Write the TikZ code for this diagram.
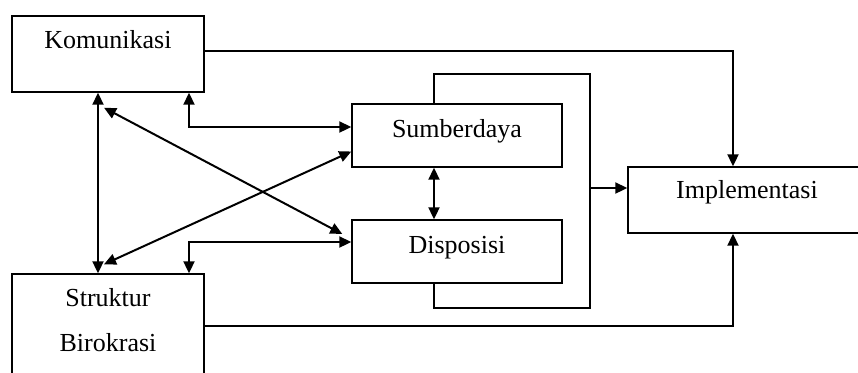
\documentclass[tikz,border=0pt]{standalone}
\usepackage{fontspec}
\setmainfont{Liberation Serif}
\usetikzlibrary{arrows.meta, positioning, calc}

\begin{document}
\begin{tikzpicture}[x=0.5pt, y=-0.5pt,
  box/.style={draw, line width=0.7pt, inner sep=0pt, font=\fontsize{13}{15}\selectfont, text height=9pt},
  arr/.style={-{Triangle[length=6pt,width=5.5pt]}, line width=1pt},
  dbl/.style={{Triangle[length=6pt,width=5.5pt]}-{Triangle[length=6pt,width=5.5pt]}, line width=1pt}]
\clip (0,0) rectangle (858,372);
\node[box, minimum width=96pt, minimum height=38pt, text depth=15pt] (kom) at (108,54) {Komunikasi};
\node[box, minimum width=105pt, minimum height=31.5pt, text depth=7.5pt] (sum) at (457,135.5) {Sumberdaya};
\node[box, minimum width=105pt, minimum height=31.5pt, text depth=7.5pt] (dis) at (457,251.5) {Disposisi};
\node[box, minimum width=119pt, minimum height=33pt, text depth=11pt] (imp) at (747,200) {Implementasi};
\node[box, minimum width=96pt, minimum height=58pt, align=center, font=\fontsize{13}{22.5}\selectfont, text height=31.5pt, text depth=12.5pt] (str) at (108,332) {Struktur\\Birokrasi};
\coordinate (btop) at (434,74);
\coordinate (bbot) at (434,308);
\coordinate (bout) at (590,188);
\draw[line width=0.8pt] (btop |- sum.north) -- (btop) -| (bout) |- (bbot) -- (bbot |- dis.south);
\draw[arr] (bout) -- (bout -| imp.west);
\draw[dbl] (btop |- sum.south) -- (btop |- dis.north);
\draw[arr] ([yshift=1.5pt]kom.east) -| ([xshift=-7pt]imp.north);
\draw[arr] ([yshift=3pt]str.east) -| ([xshift=-7pt]imp.south);
\draw[dbl] ([xshift=-5pt]kom.south) -- ([xshift=-5pt]str.north);
\draw[dbl] ([xshift=40.5pt]kom.south) |- ([yshift=4.25pt]sum.west);
\draw[dbl] ([xshift=40.5pt]str.north) |- ([yshift=4.75pt]dis.west);
\draw[dbl] ([shift={(-2pt,-7.5pt)}]kom.south) -- ([shift={(-4.5pt,8.75pt)}]dis.west);
\draw[dbl] ([shift={(-2pt,4.5pt)}]str.north) -- ([yshift=-8pt]sum.west);
\end{tikzpicture}
\end{document}
